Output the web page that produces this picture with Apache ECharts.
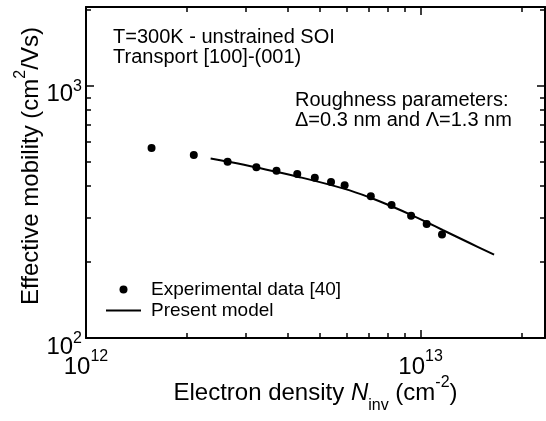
<!DOCTYPE html>
<html>
<head>
<meta charset="utf-8">
<script src="https://cdn.jsdelivr.net/npm/echarts@6/dist/echarts.min.js"></script>
<style>
  html, body { margin: 0; padding: 0; background: #fff; }
  #chart { width: 546px; height: 421px; }
</style>
</head>
<body>
<div id="chart"></div>
<script>
// Experimental effective mobility vs. inversion density
const expDensity  = [1.57e12, 2.10e12, 2.65e12, 3.23e12, 3.71e12, 4.28e12, 4.83e12, 5.40e12, 5.93e12, 7.10e12, 8.19e12, 9.37e12, 1.043e13, 1.159e13];
const expMobility = [566, 531, 500, 475, 460, 447, 432, 415, 403, 365, 337, 305, 283, 257];

// Simulated mobility (present model)
const modelDensity  = [2.358e12, 2.658e12, 3.236e12, 4.292e12, 5.932e12, 7.117e12, 8.218e12, 9.40e12, 1.047e13, 1.164e13, 1.402e13, 1.659e13];
const modelMobility = [515, 500, 474, 436, 390, 359, 332, 307, 287, 268, 238, 214];

// Axis ranges and tick values
const xRange = [1e12, 2.355e13];
const yRange = [100, 2051];
const xMajorTicks = [1e12, 1e13];
const xMinorTicks = [2e12, 3e12, 4e12, 5e12, 6e12, 7e12, 8e12, 9e12, 2e13];
const yMajorTicks = [100, 1000];
const yMinorTicks = [200, 300, 400, 500, 600, 700, 800, 900, 2000];

const legendNames = ['Experimental data [40]', 'Present model'];
const noteTopLines = ['T=300K - unstrained SOI', 'Transport [100]-(001)'];
const noteRightLines = ['Roughness parameters:', '\u0394=0.3 nm and \u039b=1.3 nm'];

const FONT = '"Liberation Sans", Arial, Helvetica, sans-serif';
const INK = '#000';

function powerLabel(v) {
  const e = Math.round(Math.log10(v));
  return '{b|10}{s|' + e + '}';
}

// rich-text pieces are all top-aligned; padding-top sets each piece's height in the line
function tok(size, padTop, lineHeight, extra) {
  return Object.assign({
    fontSize: size, fontFamily: FONT, color: INK,
    verticalAlign: 'top', lineHeight: lineHeight, padding: [padTop, 0, 0, 0]
  }, extra || {});
}

const xLabelRich = { b: tok(24, 6, 30), s: tok(16, 0, 30) };
const yLabelRich = { b: tok(24, 13, 32), s: tok(16, 9, 32) };

function logAxis(range, position, opts) {
  return Object.assign({
    type: 'log',
    logBase: 10,
    min: range[0],
    max: range[1],
    position: position,
    splitLine: { show: false },
    minorTick: { show: false },
    axisLine: { show: false },
    axisLabel: { show: false },
    axisTick: { show: false }
  }, opts);
}

function majorTick(values) {
  return { show: true, inside: true, length: 8, customValues: values, lineStyle: { color: INK, width: 1.5 } };
}
function minorTick(values) {
  return { show: true, inside: true, length: 5, customValues: values, lineStyle: { color: INK, width: 1.5 } };
}
const frameLine = { show: true, onZero: false, lineStyle: { color: INK, width: 2 } };

const chart = echarts.init(document.getElementById('chart'), null, { renderer: 'canvas' });

chart.setOption({
  backgroundColor: '#fff',
  animation: false,
  grid: { left: 86, right: 1, top: 7, bottom: 83, containLabel: false, outerBoundsMode: 'none' },
  xAxis: [
    logAxis(xRange, 'bottom', {
      axisLine: frameLine,
      axisTick: majorTick(xMajorTicks),
      axisLabel: {
        show: true, customValues: xMajorTicks, margin: 11, formatter: powerLabel, rich: xLabelRich
      },
      name: '{m|Electron density }{i|N}{sub|inv}{m| (cm}{sup|-2}{m|)}',
      nameLocation: 'middle',
      nameGap: 33,
      nameMoveOverlap: false,
      nameTextStyle: {
        rich: {
          m: tok(24, 10, 44),
          i: tok(24, 10, 44, { fontStyle: 'italic' }),
          sub: tok(16, 27, 44),
          sup: tok(16, 4, 44)
        }
      }
    }),
    logAxis(xRange, 'bottom', { axisTick: minorTick(xMinorTicks) }),
    logAxis(xRange, 'top', { axisLine: frameLine, axisTick: majorTick(xMajorTicks) }),
    logAxis(xRange, 'top', { axisTick: minorTick(xMinorTicks) })
  ],
  yAxis: [
    logAxis(yRange, 'left', {
      axisLine: frameLine,
      axisTick: majorTick(yMajorTicks),
      axisLabel: {
        show: true, customValues: yMajorTicks, margin: 4, formatter: powerLabel, rich: yLabelRich
      },
      name: '{m|Effective mobility (cm}{sup|2}{m|/Vs)}',
      nameLocation: 'middle',
      nameGap: 43,
      nameMoveOverlap: false,
      nameTextStyle: {
        padding: [0, 0, 0, 13],
        rich: {
          m: tok(24, 6, 30),
          sup: tok(16, 0, 30)
        }
      }
    }),
    logAxis(yRange, 'left', { axisTick: minorTick(yMinorTicks) }),
    logAxis(yRange, 'right', { axisLine: frameLine, axisTick: majorTick(yMajorTicks) }),
    logAxis(yRange, 'right', { axisTick: minorTick(yMinorTicks) })
  ],
  legend: {
    left: 106,
    top: 279,
    padding: 0,
    orient: 'vertical',
    itemWidth: 35,
    itemHeight: 8,
    itemGap: 0,
    selectedMode: false,
    textStyle: { fontSize: 19, lineHeight: 21, fontFamily: FONT, color: INK, padding: [0, 0, 0, 5] },
    data: [
      { name: legendNames[0], icon: 'circle', itemStyle: { color: INK, opacity: 1 } },
      { name: legendNames[1], icon: 'path://M0 0H35V2H0Z', itemStyle: { color: INK } }
    ]
  },
  series: [
    {
      name: legendNames[0],
      type: 'scatter',
      xAxisIndex: 0, yAxisIndex: 0,
      symbol: 'circle',
      symbolSize: 8,
      itemStyle: { color: INK, opacity: 1 },
      data: expDensity.map((d, i) => [d, expMobility[i]]),
      z: 3
    },
    {
      name: legendNames[1],
      type: 'line',
      xAxisIndex: 0, yAxisIndex: 0,
      smooth: 0.4,
      showSymbol: false,
      symbol: 'none',
      lineStyle: { color: INK, width: 2 },
      itemStyle: { color: INK },
      data: modelDensity.map((d, i) => [d, modelMobility[i]]),
      z: 2
    }
  ],
  graphic: [
    {
      type: 'text', left: 113, top: 27,
      style: { text: noteTopLines.join('\n'), font: '20px ' + FONT, fill: INK, lineHeight: 20 }
    },
    {
      type: 'text', left: 295, top: 90,
      style: { text: noteRightLines.join('\n'), font: '20px ' + FONT, fill: INK, lineHeight: 20 }
    }
  ]
});
</script>
</body>
</html>
